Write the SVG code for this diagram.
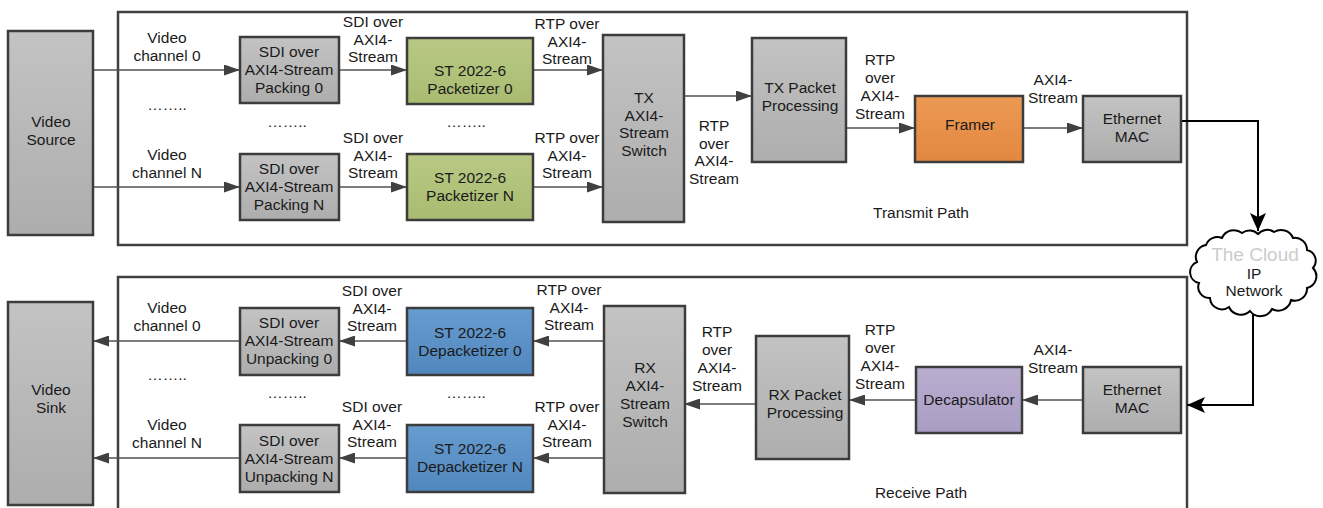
<svg xmlns="http://www.w3.org/2000/svg" width="1323" height="508" viewBox="0 0 1323 508">
<defs>
<linearGradient id="gGray" x1="0" y1="0" x2="0" y2="1"><stop offset="0" stop-color="#c3c3c3"/><stop offset="1" stop-color="#adadad"/></linearGradient>
<linearGradient id="gGreen" x1="0" y1="0" x2="0" y2="1"><stop offset="0" stop-color="#b9c985"/><stop offset="1" stop-color="#a9bb70"/></linearGradient>
<linearGradient id="gOrange" x1="0" y1="0" x2="0" y2="1"><stop offset="0" stop-color="#ec9a55"/><stop offset="1" stop-color="#e3873f"/></linearGradient>
<linearGradient id="gBlue" x1="0" y1="0" x2="0" y2="1"><stop offset="0" stop-color="#679cd0"/><stop offset="1" stop-color="#5087bd"/></linearGradient>
<linearGradient id="gPurple" x1="0" y1="0" x2="0" y2="1"><stop offset="0" stop-color="#b9adcf"/><stop offset="1" stop-color="#aa9dc4"/></linearGradient>
<marker id="arr" markerUnits="userSpaceOnUse" viewBox="0 0 16 11" refX="16" refY="5.5" markerWidth="16" markerHeight="11" orient="auto"><path d="M0,0 L16,5.5 L0,11 z" fill="#404040"/></marker>
<marker id="arrB" markerUnits="userSpaceOnUse" viewBox="0 0 18 16" refX="18" refY="8" markerWidth="18" markerHeight="16" orient="auto"><path d="M0,0 L18,8 L0,16 L4,8 z" fill="#000"/></marker>
</defs>
<style>
text{font-family:"Liberation Sans",Arial,sans-serif;font-size:15.5px;fill:#1a1a1a;text-anchor:middle}
.box{stroke:#3c3c3c;stroke-width:2.5}
.gray{fill:url(#gGray)}
.green{fill:url(#gGreen)}
.orange{fill:url(#gOrange)}
.blue{fill:url(#gBlue)}
.purple{fill:url(#gPurple)}
.frame{fill:none;stroke:#404040;stroke-width:2.5}
.c{fill:none;stroke:#505050;stroke-width:1.3;marker-end:url(#arr)}
.cb{fill:none;stroke:#000;stroke-width:2;marker-end:url(#arrB)}
.cloudtxt{fill:#cccccc;font-size:19px}
</style>

<g id="frames">
<rect class="frame" x="118" y="12" width="1069" height="233"/>
<rect class="frame" x="118" y="277" width="1069" height="240"/>
<text x="921" y="218">Transmit Path</text>
<text x="921" y="498">Receive Path</text>
</g>

<g id="connectors">
<path class="c" d="M93,70 H240"/>
<path class="c" d="M93,187 H240"/>
<path class="c" d="M339,70 H407"/>
<path class="c" d="M339,187 H407"/>
<path class="c" d="M533,70 H603"/>
<path class="c" d="M533,187 H603"/>
<path class="c" d="M682,96 H752"/>
<path class="c" d="M846,128 H915"/>
<path class="c" d="M1023,128 H1083"/>
<path class="cb" d="M1181,121 H1258 V231"/>
<path class="cb" d="M1253,311 V405 H1187"/>
<path class="c" d="M240,341 H93"/>
<path class="c" d="M240,458 H93"/>
<path class="c" d="M407,341 H339"/>
<path class="c" d="M407,458 H339"/>
<path class="c" d="M604,341 H533"/>
<path class="c" d="M604,458 H533"/>
<path class="c" d="M756,404 H684"/>
<path class="c" d="M916,400 H849"/>
<path class="c" d="M1083,400 H1022"/>
</g>

<g id="labels">
<text x="167" y="43"><tspan x="167">Video</tspan><tspan x="167" dy="18">channel 0</tspan></text>
<text x="167" y="110">……..</text>
<text x="287" y="127">……..</text>
<text x="167" y="160"><tspan x="167">Video</tspan><tspan x="167" dy="18">channel N</tspan></text>
<text x="373" y="27"><tspan x="373">SDI over</tspan><tspan x="373" dy="17.5">AXI4-</tspan><tspan x="373" dy="17.5">Stream</tspan></text>
<text x="373" y="143"><tspan x="373">SDI over</tspan><tspan x="373" dy="17.5">AXI4-</tspan><tspan x="373" dy="17.5">Stream</tspan></text>
<text x="466" y="127">……..</text>
<text x="567" y="29"><tspan x="567">RTP over</tspan><tspan x="567" dy="17.5">AXI4-</tspan><tspan x="567" dy="17.5">Stream</tspan></text>
<text x="567" y="143"><tspan x="567">RTP over</tspan><tspan x="567" dy="17.5">AXI4-</tspan><tspan x="567" dy="17.5">Stream</tspan></text>
<text x="714" y="131"><tspan x="714">RTP</tspan><tspan x="714" dy="17.7">over</tspan><tspan x="714" dy="17.7">AXI4-</tspan><tspan x="714" dy="17.7">Stream</tspan></text>
<text x="880" y="65"><tspan x="880">RTP</tspan><tspan x="880" dy="18">over</tspan><tspan x="880" dy="18">AXI4-</tspan><tspan x="880" dy="18">Stream</tspan></text>
<text x="1053" y="85"><tspan x="1053">AXI4-</tspan><tspan x="1053" dy="18">Stream</tspan></text>

<text x="167" y="313"><tspan x="167">Video</tspan><tspan x="167" dy="18">channel 0</tspan></text>
<text x="167" y="380">……..</text>
<text x="287" y="398">……..</text>
<text x="167" y="430"><tspan x="167">Video</tspan><tspan x="167" dy="18">channel N</tspan></text>
<text x="372" y="296"><tspan x="372">SDI over</tspan><tspan x="372" dy="17.5">AXI4-</tspan><tspan x="372" dy="17.5">Stream</tspan></text>
<text x="372" y="412"><tspan x="372">SDI over</tspan><tspan x="372" dy="17.5">AXI4-</tspan><tspan x="372" dy="17.5">Stream</tspan></text>
<text x="466" y="398">……..</text>
<text x="569" y="295"><tspan x="569">RTP over</tspan><tspan x="569" dy="17.5">AXI4-</tspan><tspan x="569" dy="17.5">Stream</tspan></text>
<text x="567" y="412"><tspan x="567">RTP over</tspan><tspan x="567" dy="17.5">AXI4-</tspan><tspan x="567" dy="17.5">Stream</tspan></text>
<text x="717" y="337"><tspan x="717">RTP</tspan><tspan x="717" dy="18">over</tspan><tspan x="717" dy="18">AXI4-</tspan><tspan x="717" dy="18">Stream</tspan></text>
<text x="880" y="335"><tspan x="880">RTP</tspan><tspan x="880" dy="18">over</tspan><tspan x="880" dy="18">AXI4-</tspan><tspan x="880" dy="18">Stream</tspan></text>
<text x="1053" y="355"><tspan x="1053">AXI4-</tspan><tspan x="1053" dy="18">Stream</tspan></text>
</g>

<g id="video-source"><rect class="box gray" x="8" y="31" width="85" height="204"/><text x="51" y="127"><tspan x="51">Video</tspan><tspan x="51" dy="18">Source</tspan></text></g>
<g id="packing-0"><rect class="box gray" x="240" y="37" width="99" height="66"/><text x="289" y="57"><tspan x="289">SDI over</tspan><tspan x="289" dy="18">AXI4-Stream</tspan><tspan x="289" dy="18">Packing 0</tspan></text></g>
<g id="packing-n"><rect class="box gray" x="240" y="154" width="99" height="66"/><text x="289" y="174"><tspan x="289">SDI over</tspan><tspan x="289" dy="18">AXI4-Stream</tspan><tspan x="289" dy="18">Packing N</tspan></text></g>
<g id="packetizer-0"><rect class="box green" x="407" y="38" width="126" height="66"/><text x="470" y="76"><tspan x="470">ST 2022-6</tspan><tspan x="470" dy="17.5">Packetizer 0</tspan></text></g>
<g id="packetizer-n"><rect class="box green" x="407" y="154" width="126" height="66"/><text x="470" y="183"><tspan x="470">ST 2022-6</tspan><tspan x="470" dy="17.5">Packetizer N</tspan></text></g>
<g id="tx-switch"><rect class="box gray" x="603" y="35" width="81" height="187"/><text x="644" y="103"><tspan x="644">TX</tspan><tspan x="644" dy="17.7">AXI4-</tspan><tspan x="644" dy="17.7">Stream</tspan><tspan x="644" dy="17.7">Switch</tspan></text></g>
<g id="tx-packet"><rect class="box gray" x="752" y="38" width="94" height="124"/><text x="800" y="93"><tspan x="800">TX Packet</tspan><tspan x="800" dy="17.5">Processing</tspan></text></g>
<g id="framer"><rect class="box orange" x="915" y="96" width="108" height="66"/><text x="970" y="130">Framer</text></g>
<g id="tx-mac"><rect class="box gray" x="1083" y="96" width="98" height="66"/><text x="1132" y="124"><tspan x="1132">Ethernet</tspan><tspan x="1132" dy="18">MAC</tspan></text></g>

<g id="cloud">
<path d="M1197,262 A12,12 0 0 1 1206,245 A12,12 0 0 1 1222,238 A13,13 0 0 1 1242,233 A12,12 0 0 1 1258,234 A12,12 0 0 1 1274,232 A13,13 0 0 1 1293,238 A12,12 0 0 1 1307,250 A11,11 0 0 1 1313,268 A12,12 0 0 1 1307,288 A12,12 0 0 1 1291,300 A13,13 0 0 1 1272,309 A13,13 0 0 1 1250,311 A13,13 0 0 1 1229,307 A12,12 0 0 1 1210,298 A11,11 0 0 1 1199,283 A11,11 0 0 1 1197,262 z" fill="#fff" stroke="#000" stroke-width="2"/>
<text class="cloudtxt" x="1255" y="261">The Cloud</text>
<text x="1254" y="279">IP</text>
<text x="1254" y="296">Network</text>
</g>

<g id="video-sink"><rect class="box gray" x="8" y="302" width="85" height="203"/><text x="51" y="395"><tspan x="51">Video</tspan><tspan x="51" dy="18">Sink</tspan></text></g>
<g id="unpacking-0"><rect class="box gray" x="240" y="308" width="99" height="67"/><text x="289" y="328"><tspan x="289">SDI over</tspan><tspan x="289" dy="18">AXI4-Stream</tspan><tspan x="289" dy="18">Unpacking 0</tspan></text></g>
<g id="unpacking-n"><rect class="box gray" x="240" y="425" width="99" height="67"/><text x="289" y="446"><tspan x="289">SDI over</tspan><tspan x="289" dy="18">AXI4-Stream</tspan><tspan x="289" dy="18">Unpacking N</tspan></text></g>
<g id="depacketizer-0"><rect class="box blue" x="407" y="308" width="126" height="67"/><text x="470" y="338"><tspan x="470">ST 2022-6</tspan><tspan x="470" dy="18">Depacketizer 0</tspan></text></g>
<g id="depacketizer-n"><rect class="box blue" x="407" y="425" width="126" height="67"/><text x="470" y="454"><tspan x="470">ST 2022-6</tspan><tspan x="470" dy="18">Depacketizer N</tspan></text></g>
<g id="rx-switch"><rect class="box gray" x="604" y="306" width="81" height="187"/><text x="645" y="373"><tspan x="645">RX</tspan><tspan x="645" dy="18">AXI4-</tspan><tspan x="645" dy="18">Stream</tspan><tspan x="645" dy="18">Switch</tspan></text></g>
<g id="rx-packet"><rect class="box gray" x="756" y="336" width="93" height="123"/><text x="805" y="400"><tspan x="805">RX Packet</tspan><tspan x="805" dy="18">Processing</tspan></text></g>
<g id="decapsulator"><rect class="box purple" x="916" y="367" width="106" height="66"/><text x="969" y="405">Decapsulator</text></g>
<g id="rx-mac"><rect class="box gray" x="1083" y="367" width="98" height="66"/><text x="1132" y="395"><tspan x="1132">Ethernet</tspan><tspan x="1132" dy="18">MAC</tspan></text></g>
</svg>
